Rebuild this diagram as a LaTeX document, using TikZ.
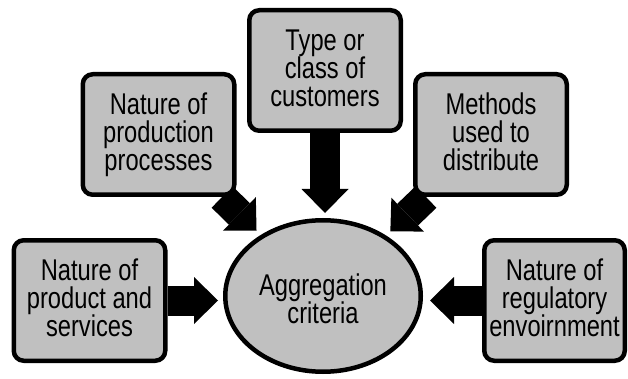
\documentclass[tikz,border=0pt]{standalone}
\usepackage{fontspec}
\setmainfont{Liberation Sans}[FakeStretch=0.79]
\usetikzlibrary{shapes.geometric,arrows.meta,backgrounds}
\definecolor{boxgray}{HTML}{C0C0C0}
\lineskiplimit=-100pt
\newcommand\tstrut{\rule{0pt}{24pt}}
\newcommand\bstrut{\rule[-8pt]{0pt}{8pt}}
\newcommand\critfont{\fontsize{30pt}{28pt}\selectfont}
\tikzset{
  crit/.style={draw=black, line width=4.5pt, fill=boxgray, rounded corners=10pt,
    minimum width=151.5pt, minimum height=120.5pt, inner sep=0pt, align=center,
    font=\critfont},
  centre/.style={ellipse, draw=black, line width=4.5pt, fill=boxgray,
    minimum width=195.5pt, minimum height=151.5pt, inner sep=0pt, align=center,
    font=\critfont},
  bigarrow/.style={draw=black, line width=30pt,
    -{Triangle[width=47pt,length=24pt,line width=0pt]}, shorten >=6pt}
}
\begin{document}
\begin{tikzpicture}[x=1pt,y=1pt]
\useasboundingbox (0,0) rectangle (628,-379);
\node[centre] (E) at (323,-296) {\rule{0pt}{30pt}Aggregation\\criteria\rule[-3pt]{0pt}{3pt}};
\node[crit] (L) at (89.5,-300.5) {\tstrut Nature of\\product and\\services\bstrut};
\node[crit, minimum width=140.5pt] (R) at (554.5,-300.5) {\tstrut Nature of\\regulatory\\envoirnment\bstrut};
\node[crit] (T) at (325,-70.5) {\tstrut Type or\\class of\\customers\bstrut};
\node[crit] (UL) at (158.5,-134.5) {\tstrut Nature of\\production\\processes\bstrut};
\node[crit] (UR) at (491,-134.5) {\tstrut Methods\\used to\\distribute\bstrut};
\begin{scope}[on background layer]
  \draw[bigarrow, shorten >=5pt] (L) -- (L -| E.west);
  \draw[bigarrow, shorten >=7pt] (R) -- (R -| E.east);
  \draw[bigarrow, shorten >=5pt] (T) -- (T |- E.north);
  \draw[bigarrow] (UL) -- (E);
  \draw[bigarrow] (UR) -- (E);
\end{scope}
\end{tikzpicture}
\end{document}
